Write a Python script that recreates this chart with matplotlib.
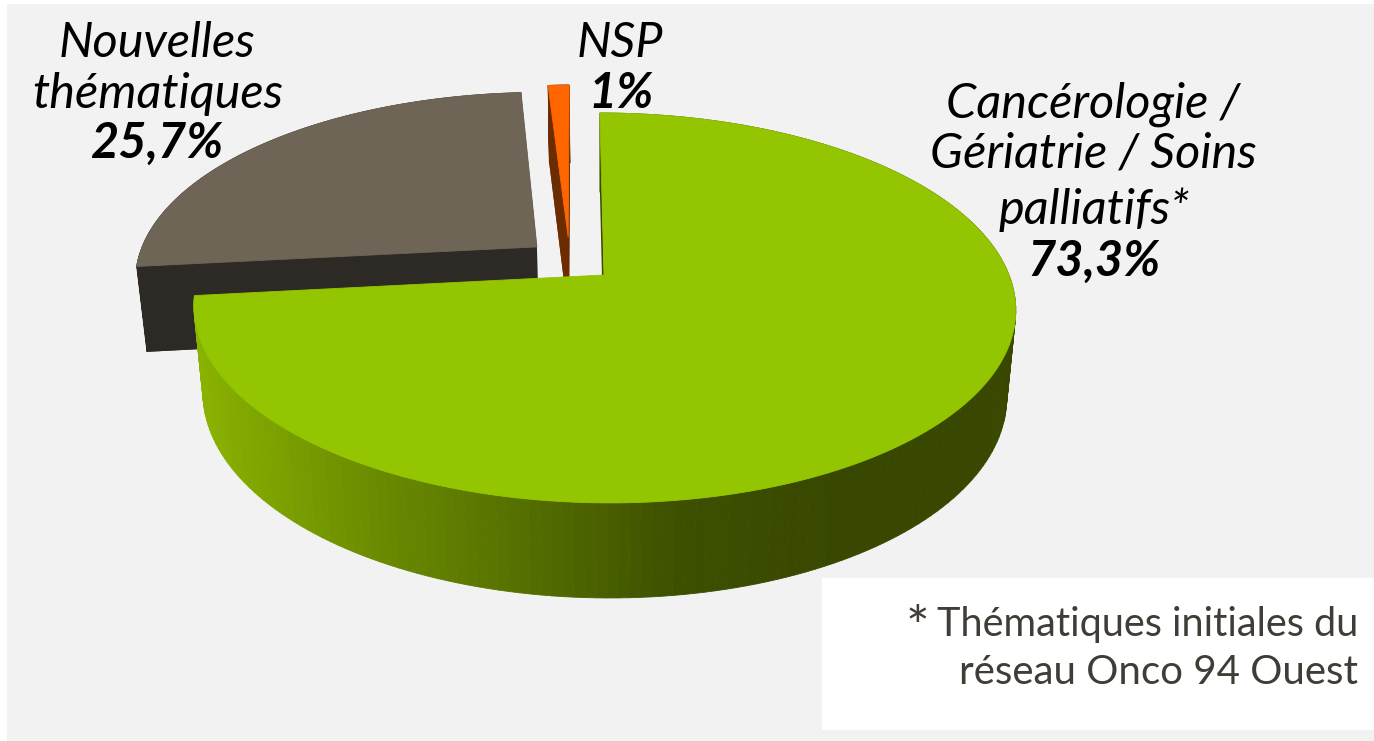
import numpy as np
import matplotlib
matplotlib.use("Agg")
import matplotlib.pyplot as plt
from matplotlib.colors import LinearSegmentedColormap, Normalize
from matplotlib.patches import Polygon, Rectangle

categories = ["Cancérologie / Soins", "Nouvelles thématiques", "NSP"]
values = [73.3, 25.7, 1.0]

top_colors = ["#93c500", "#6e6557", "#ff6600"]
side_colors = ["#3a4a00", "#2d2a25", "#6b2c00"]
# how far each slice is pulled out, in disc units
shift_u = [0.0, -0.168, -0.089]
shift_v = [0.0, -0.152, -0.207]

FONT = "Lato"


def project(u, v):
    """disc coords -> pixels, with some perspective"""
    w = 1 - 0.169 * v
    return 604 + 405 * (u + 0.012 * v) / w, 275 + 189.4 * v / w


def lower(x, y):
    """same point on the bottom face of the pie"""
    return 604 + (x - 604) * 0.978, y + 78 + 0.041 * (y - 87)


def arc(start, end, du, dv, n=200):
    th = np.radians(np.linspace(start, end, n))
    return project(np.cos(th) + du, -np.sin(th) + dv)


fig = plt.figure(figsize=(13.74, 7.41), dpi=100)
ax = fig.add_axes([0, 0, 1, 1])
ax.set_xlim(0, 1374)
ax.set_ylim(741, 0)
ax.axis("off")

ax.add_patch(Rectangle((7, 4), 1367, 737, fc="#f2f2f2", ec="none"))
ax.add_patch(Rectangle((822, 578), 552, 152, fc="white", ec="none"))

# slice angles, clockwise from the top
starts = 90 - np.cumsum([0] + values[:-1]) * 3.6
ends = 90 - np.cumsum(values) * 3.6

green_ramp = LinearSegmentedColormap.from_list(
    "side", ["#8ab200", "#6d8f00", "#567000", "#3d5000", "#384800", "#384800"])
ramp_norm = Normalize(195, 1010)

# small slices first, the big one sits in front of them
for i in [1, 2, 0]:
    ax_x, ax_y = project(shift_u[i], shift_v[i])
    xs, ys = arc(starts[i], ends[i], shift_u[i], shift_v[i])
    lx, ly = lower(xs, ys)
    ax_lx, ax_ly = lower(ax_x, ax_y)

    if i == 0:
        # rim with the left to right shading
        for k in range(len(xs) - 1):
            quad = [(xs[k], ys[k]), (xs[k + 1], ys[k + 1]),
                    (lx[k + 1], ly[k + 1]), (lx[k], ly[k])]
            ax.add_patch(Polygon(quad, fc=green_ramp(ramp_norm(xs[k])),
                                 ec=green_ramp(ramp_norm(xs[k])), lw=0.6))
        cuts = [0]
    else:
        ax.add_patch(Polygon(np.r_[[[ax_lx, ax_ly]], np.c_[lx, ly]],
                             fc=side_colors[i], ec="none"))
        for k in range(len(xs) - 1):
            quad = [(xs[k], ys[k]), (xs[k + 1], ys[k + 1]),
                    (lx[k + 1], ly[k + 1]), (lx[k], ly[k])]
            ax.add_patch(Polygon(quad, fc=side_colors[i], ec=side_colors[i], lw=0.5))
        cuts = [0, -1]

    # the cut faces
    for j in cuts:
        quad = [(ax_x, ax_y), (xs[j], ys[j]), (lx[j], ly[j]), (ax_lx, ax_ly)]
        ax.add_patch(Polygon(quad, fc=side_colors[i], ec="none"))

    ax.add_patch(Polygon(np.r_[[[ax_x, ax_y]], np.c_[xs, ys]],
                         fc=top_colors[i], ec=top_colors[i], lw=0.6))


def pct(v):
    return f"{v:g}".replace(".", ",") + "%"


def label(x, y, s, **kw):
    ax.text(x, y, s, family=FONT, ha="center", va="baseline", color="black", **kw)


LABEL_SIZE = 35
label(157, 57, "Nouvelles", fontsize=LABEL_SIZE, style="italic")
label(158, 108, "thématiques", fontsize=LABEL_SIZE, style="italic")
label(157, 158, pct(values[1]), fontsize=LABEL_SIZE, style="italic", weight="bold")

label(620, 57, categories[2], fontsize=LABEL_SIZE, style="italic")
label(621, 108, pct(values[2]), fontsize=LABEL_SIZE, style="italic", weight="bold")

label(1093, 118, "Cancérologie /", fontsize=LABEL_SIZE, style="italic")
label(1093, 168, "Gériatrie / Soins", fontsize=LABEL_SIZE, style="italic")
label(1094, 224, "palliatifs*", fontsize=LABEL_SIZE, style="italic")
label(1094, 276, pct(values[0]), fontsize=LABEL_SIZE, style="italic", weight="bold")

ax.text(1358, 636, "Thématiques initiales du", family=FONT, fontsize=28.5,
        ha="right", va="baseline", color="#403c36")
ax.text(929, 646, "*", family=FONT, fontsize=40,
        ha="right", va="baseline", color="#403c36")
ax.text(1358, 684, "réseau Onco 94 Ouest", family=FONT, fontsize=29,
        ha="right", va="baseline", color="#403c36")

fig.savefig("out.png", dpi=100)
